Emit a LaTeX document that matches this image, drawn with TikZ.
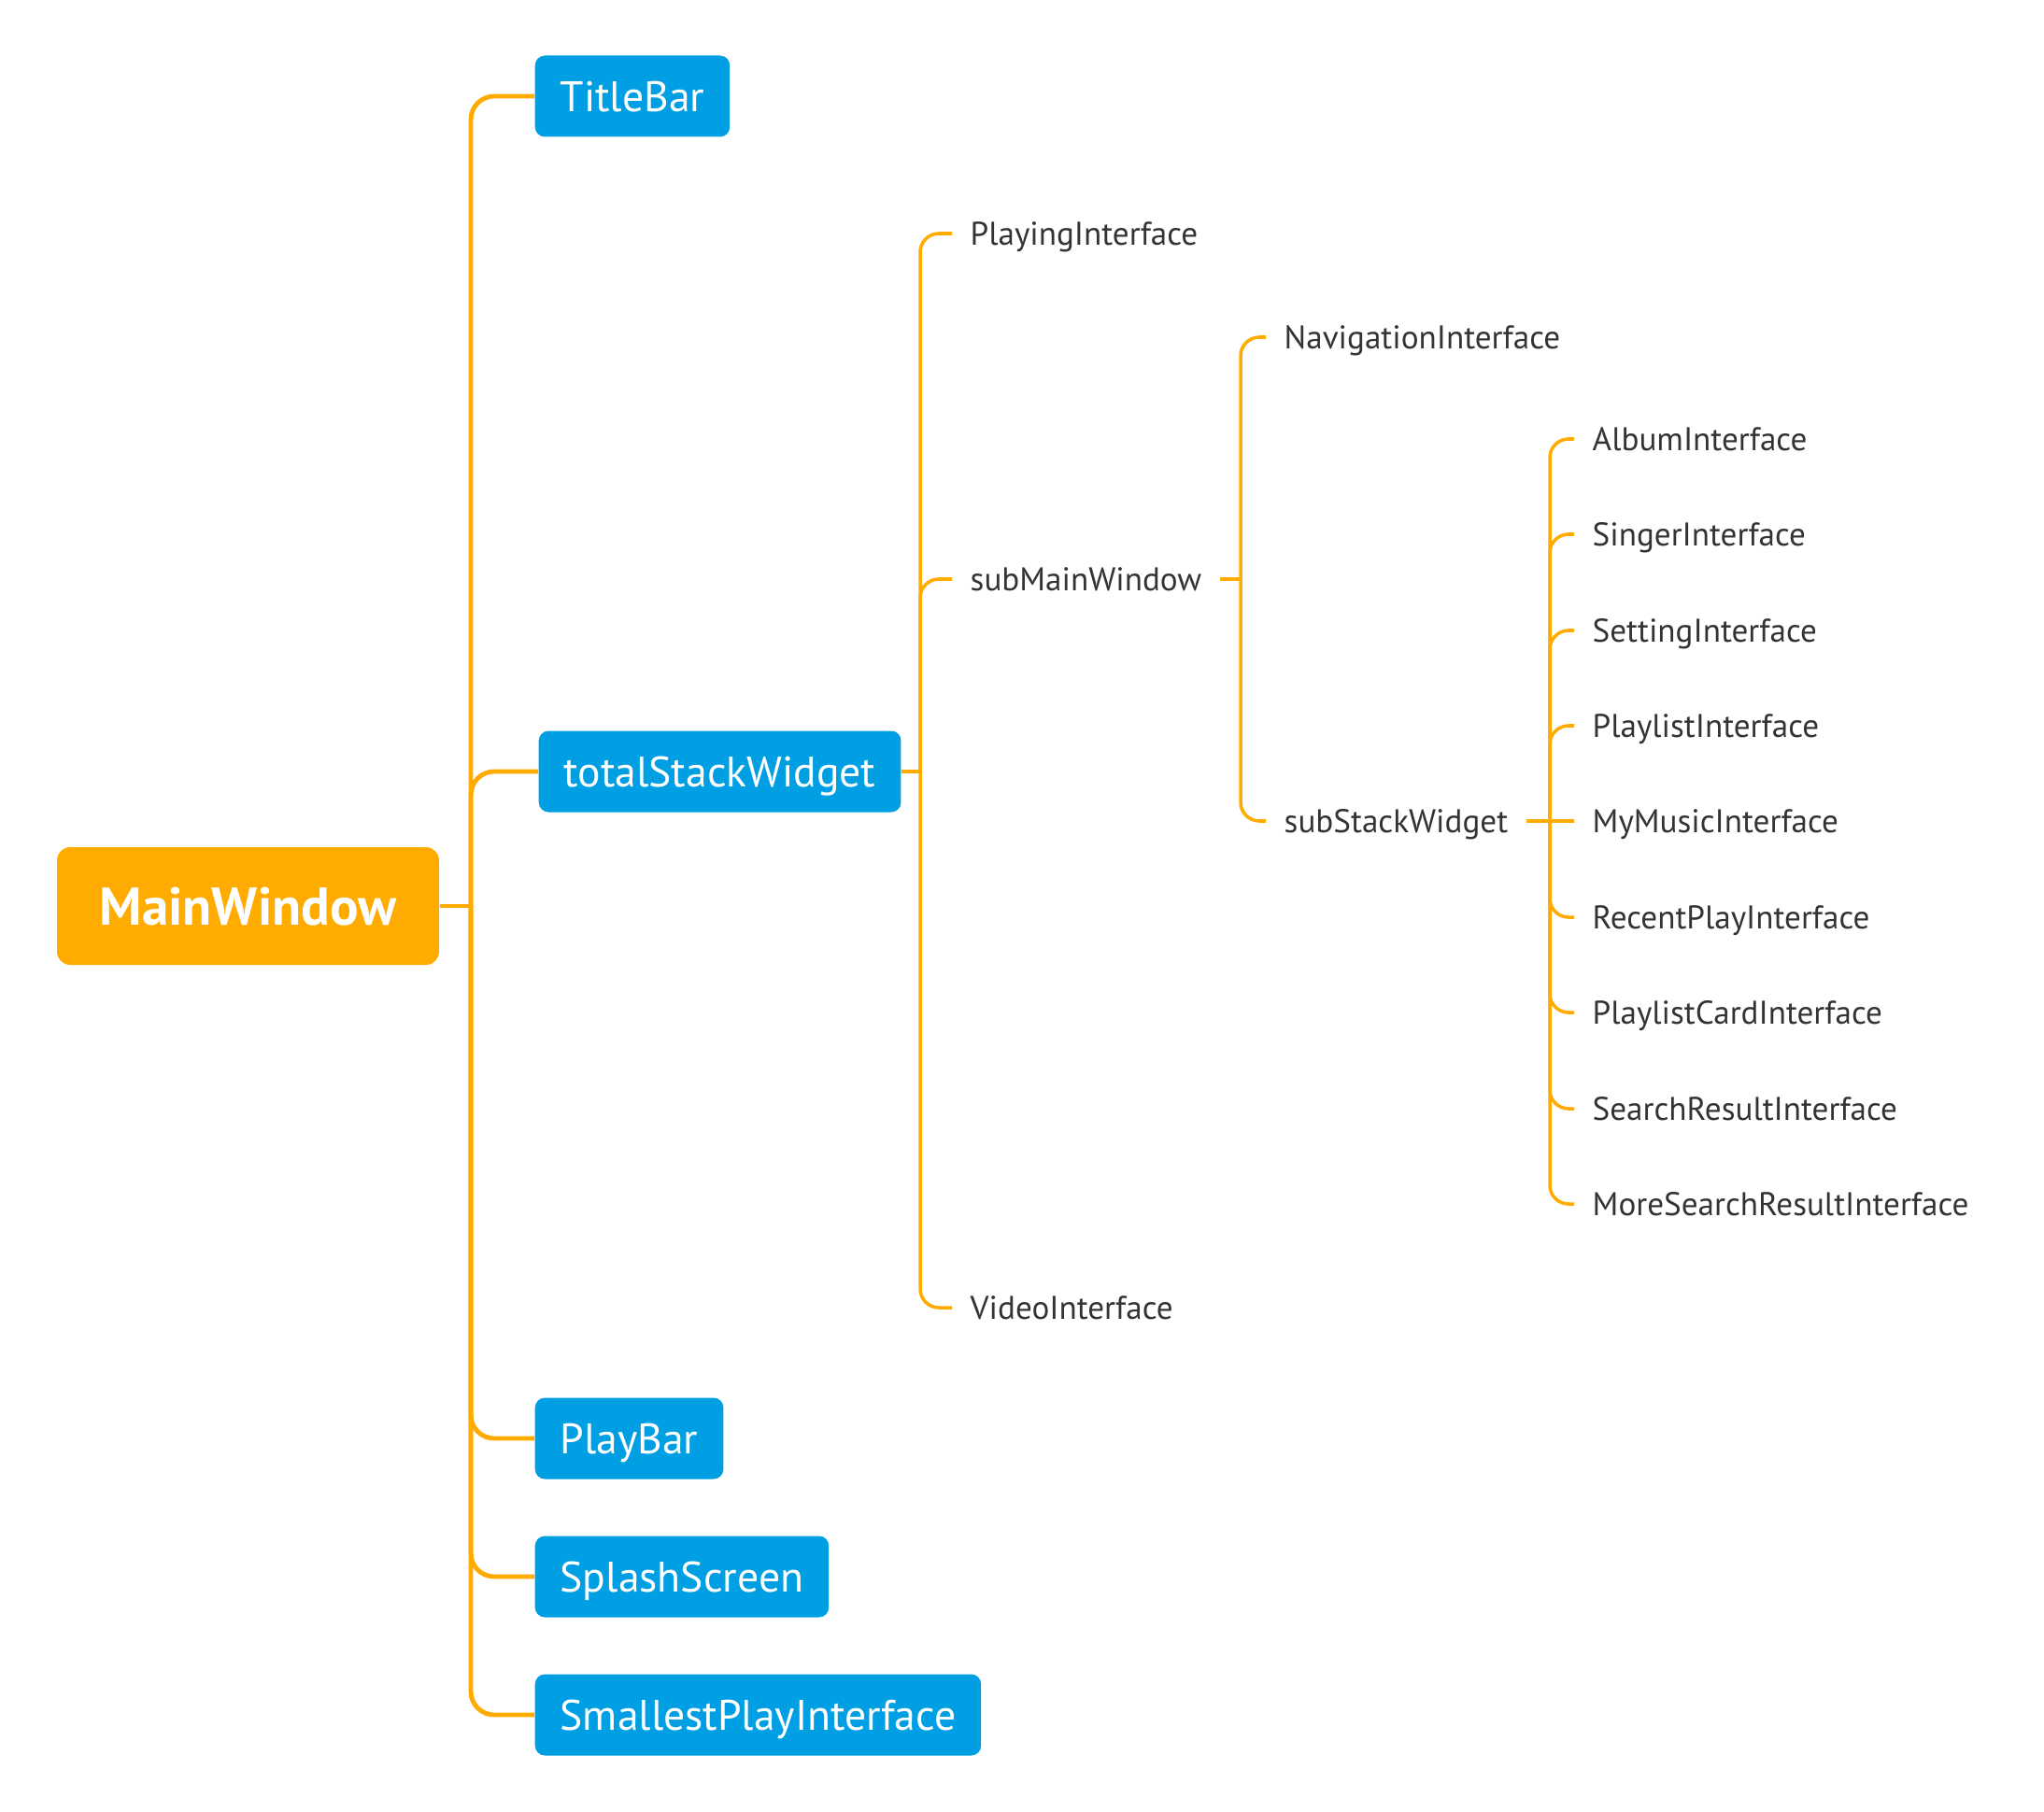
\documentclass[tikz,border=0pt]{standalone}
\usepackage{fontspec}
\setmainfont{PT Sans}
\usepackage{tikz}
\usetikzlibrary{positioning, calc}
\definecolor{mworange}{HTML}{FFAB00}
\definecolor{mwblue}{HTML}{009FE3}
\definecolor{mwtext}{HTML}{333333}
\tikzset{
    rootnode/.style={rectangle, fill=mworange, text=white, rounded corners=4pt, minimum width=4.09cm, minimum height=1.26cm, text height=11.6pt, text depth=0pt, font=\fontsize{16.2}{20}\selectfont\bfseries},
    bluenode/.style={rectangle, fill=mwblue, text=white, rounded corners=3pt, minimum height=0.87cm, inner xsep=0.27cm, text height=9.2pt, text depth=0pt, anchor=west, font=\fontsize{13}{16}\selectfont},
    leafnode/.style={rectangle, text=mwtext, inner xsep=0.19cm, inner ysep=0pt, text height=7pt, text depth=0pt, anchor=west, font=\fontsize{10}{12}\selectfont},
    mainlink/.style={draw=mworange, line width=1.4pt, rounded corners=0.25cm},
    link/.style={draw=mworange, line width=1pt, rounded corners=0.2cm}
}
\begin{document}
\begin{tikzpicture}
  \useasboundingbox (0,0) rectangle (21.88,-19.40);
  % level 0 and 1
  \node[rootnode] (n0) at (2.655, -9.70) {MainWindow};
  \coordinate (j0) at (5.04, -9.70);
  \node[bluenode] (n1) at (5.72, -1.03) {TitleBar};
  \node[bluenode] (n2) at (5.76, -8.26) {totalStackWidget};
  \node[bluenode] (n3) at (5.72, -15.40) {PlayBar};
  \node[bluenode] (n4) at (5.72, -16.88) {SplashScreen};
  \node[bluenode] (n5) at (5.72, -18.36) {SmallestPlayInterface};
  % level 2
  \coordinate (j1) at (9.85, -8.26);
  \node[leafnode] (n6) at (10.19, -2.50) {PlayingInterface};
  \node[leafnode] (n7) at (10.19, -6.20) {subMainWindow};
  \node[leafnode] (n8) at (10.19, -14.00) {VideoInterface};
  % level 3
  \coordinate (j2) at (13.28, -6.20);
  \node[leafnode] (n9) at (13.55, -3.61) {NavigationInterface};
  \node[leafnode] (n10) at (13.55, -8.79) {subStackWidget};
  % level 4
  \coordinate (j3) at (16.59, -8.79);
  \node[leafnode] (n11) at (16.85, -4.70) {AlbumInterface};
  \node[leafnode] (n12) at (16.85, -5.72) {SingerInterface};
  \node[leafnode] (n13) at (16.85, -6.75) {SettingInterface};
  \node[leafnode] (n14) at (16.85, -7.77) {PlaylistInterface};
  \node[leafnode] (n15) at (16.85, -8.79) {MyMusicInterface};
  \node[leafnode] (n16) at (16.85, -9.82) {RecentPlayInterface};
  \node[leafnode] (n17) at (16.85, -10.84) {PlaylistCardInterface};
  \node[leafnode] (n18) at (16.85, -11.87) {SearchResultInterface};
  \node[leafnode] (n19) at (16.85, -12.89) {MoreSearchResultInterface};
  \draw[mainlink] (n0.east) -- (j0);
  \draw[mainlink] (j0) |- (n1.west);
  \draw[mainlink] (j0) |- (n2.west);
  \draw[mainlink] (j0) |- (n3.west);
  \draw[mainlink] (j0) |- (n4.west);
  \draw[mainlink] (j0) |- (n5.west);
  \draw[link] (n2.east) -- (j1);
  \draw[link] (j1) |- (n6.west);
  \draw[link] (j1) |- (n7.west);
  \draw[link] (j1) |- (n8.west);
  \draw[link] (n7.east) -- (j2);
  \draw[link] (j2) |- (n9.west);
  \draw[link] (j2) |- (n10.west);
  \draw[link] (n10.east) -- (j3);
  \draw[link] (j3) |- (n11.west);
  \draw[link] (j3) |- (n12.west);
  \draw[link] (j3) |- (n13.west);
  \draw[link] (j3) |- (n14.west);
  \draw[link] (j3) -- (n15.west);
  \draw[link] (j3) |- (n16.west);
  \draw[link] (j3) |- (n17.west);
  \draw[link] (j3) |- (n18.west);
  \draw[link] (j3) |- (n19.west);
\end{tikzpicture}
\end{document}
